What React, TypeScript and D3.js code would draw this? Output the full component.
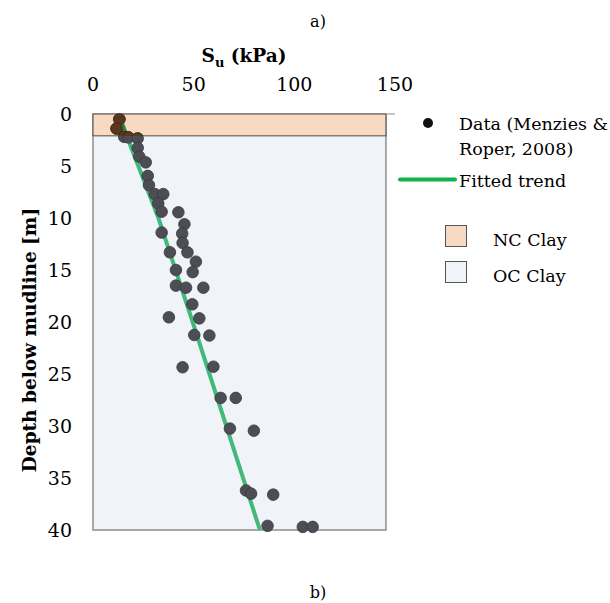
import React, { useEffect, useRef } from "react";
import * as d3 from "d3";

const suTicks = [0, 50, 100, 150];
const depthTicks = [0, 5, 10, 15, 20, 25, 30, 35, 40];

// Su (kPa) vs depth (m)
const dataSu = [
  13.1, 11.7, 15.5, 17.6, 22.2, 22.2, 23.0, 26.2, 27.2, 27.8, 30.7, 34.9, 32.4,
  34.1, 42.4, 45.4, 34.1, 44.3, 44.5, 38.2, 46.9, 51.1, 41.2, 49.5, 41.2, 46.2,
  54.8, 49.3, 37.7, 52.8, 50.3, 57.8, 44.5, 59.8, 63.4, 70.9, 68.0, 79.9, 76.0,
  78.5, 89.5, 86.7, 104.2, 109.1,
];
const dataDepth = [
  0.5, 1.4, 2.2, 2.25, 2.35, 3.25, 4.1, 4.65, 5.95, 6.85, 7.7, 7.7, 8.6, 9.4,
  9.45, 10.6, 11.4, 11.5, 12.4, 13.3, 13.3, 14.2, 15.0, 15.2, 16.5, 16.7, 16.7,
  18.3, 19.55, 19.65, 21.25, 21.3, 24.35, 24.3, 27.3, 27.3, 30.25, 30.45, 36.2,
  36.5, 36.6, 39.6, 39.7, 39.7,
];

const trendDepth = [0, 2, 10, 20, 40];
const trendSu = [12.6, 16.5, 32.5, 49.5, 82.9];

const ncBottom = 2.1;
const layerSuMax = 145.5;
const dataLabel = ["Data (Menzies &", "Roper, 2008)"];
const trendLabel = "Fitted trend";
const layerLabels = ["NC Clay", "OC Clay"];
const layerColors = ["#f8dac3", "#f0f4f8"];

const font = "'DejaVu Serif', serif";

const App = () => {
  const ref = useRef<SVGSVGElement>(null);

  useEffect(() => {
    const svg = d3.select(ref.current);
    svg.selectAll("*").remove();

    const x = d3.scaleLinear().domain([0, 150]).range([93, 395]);
    const y = d3.scaleLinear().domain([0, 40]).range([114, 530]);

    const points = dataSu.map((s, i) => ({ su: s, z: dataDepth[i] }));
    const trend = trendSu.map((s, i) => ({ su: s, z: trendDepth[i] }));
    const line = d3
      .line<{ su: number; z: number }>()
      .x((d) => x(d.su))
      .y((d) => y(d.z));

    svg
      .append("defs")
      .append("clipPath")
      .attr("id", "nc-clip")
      .append("rect")
      .attr("x", x(0))
      .attr("y", y(0))
      .attr("width", x(layerSuMax) - x(0))
      .attr("height", y(ncBottom) - y(0));

    // OC clay (whole profile)
    svg
      .append("rect")
      .attr("x", x(0))
      .attr("y", y(0))
      .attr("width", x(layerSuMax) - x(0))
      .attr("height", y(40) - y(0))
      .attr("fill", layerColors[1])
      .attr("stroke", "#8e8e8e")
      .attr("stroke-width", 1.5);

    svg
      .append("line")
      .attr("x1", x(0))
      .attr("x2", x(150))
      .attr("y1", y(0))
      .attr("y2", y(0))
      .attr("stroke", "#c6c6c6")
      .attr("stroke-width", 2);

    // NC clay layer
    svg
      .append("rect")
      .attr("x", x(0))
      .attr("y", y(0))
      .attr("width", x(layerSuMax) - x(0))
      .attr("height", y(ncBottom) - y(0))
      .attr("fill", layerColors[0])
      .attr("stroke", "#4a4a4a")
      .attr("stroke-width", 1);

    const drawMarks = (g, lineColor, dotFill, dotStroke) => {
      g.append("path")
        .datum(trend)
        .attr("d", line)
        .attr("fill", "none")
        .attr("stroke", lineColor)
        .attr("stroke-width", 4);
      g.selectAll("circle")
        .data(points)
        .join("circle")
        .attr("cx", (d) => x(d.su))
        .attr("cy", (d) => y(d.z))
        .attr("r", 5.8)
        .attr("fill", dotFill)
        .attr("stroke", dotStroke)
        .attr("stroke-width", 0.8);
    };

    drawMarks(svg.append("g"), "#40b97a", "#4d4d55", "#38383d");
    drawMarks(
      svg.append("g").attr("clip-path", "url(#nc-clip)"),
      "#2f8a3c",
      "#5a3620",
      "#43260f"
    );

    // axis tick labels
    svg
      .append("g")
      .selectAll("text")
      .data(suTicks)
      .join("text")
      .attr("x", (d) => x(d))
      .attr("y", 91)
      .attr("text-anchor", "middle")
      .attr("font-family", font)
      .attr("font-size", 19)
      .text((d) => d);

    svg
      .append("g")
      .selectAll("text")
      .data(depthTicks)
      .join("text")
      .attr("x", 72)
      .attr("y", (d) => y(d) + 7)
      .attr("text-anchor", "end")
      .attr("font-family", font)
      .attr("font-size", 19)
      .text((d) => d);

    const title = svg
      .append("text")
      .attr("x", 244)
      .attr("y", 62)
      .attr("text-anchor", "middle")
      .attr("font-family", font)
      .attr("font-size", 18.5)
      .attr("font-weight", "bold");
    title.append("tspan").text("S");
    title
      .append("tspan")
      .attr("font-size", 13)
      .attr("dy", 5)
      .text("u");
    title.append("tspan").attr("dy", -5).text(" (kPa)");

    svg
      .append("text")
      .attr("transform", "translate(36,340) rotate(-90)")
      .attr("text-anchor", "middle")
      .attr("font-family", font)
      .attr("font-size", 18.5)
      .attr("font-weight", "bold")
      .text("Depth below mudline [m]");

    svg
      .append("text")
      .attr("x", 318)
      .attr("y", 27)
      .attr("text-anchor", "middle")
      .attr("font-family", font)
      .attr("font-size", 16)
      .text("a)");
    svg
      .append("text")
      .attr("x", 318)
      .attr("y", 598)
      .attr("text-anchor", "middle")
      .attr("font-family", font)
      .attr("font-size", 16)
      .text("b)");

    // legend
    const legend = svg.append("g").attr("font-family", font).attr("font-size", 17.5);
    legend.append("circle").attr("cx", 428).attr("cy", 123).attr("r", 5).attr("fill", "#111");
    legend
      .selectAll("text.data")
      .data(dataLabel)
      .join("text")
      .attr("class", "data")
      .attr("x", 459)
      .attr("y", (d, i) => 130 + i * 25)
      .text((d) => d);
    legend
      .append("line")
      .attr("x1", 400)
      .attr("x2", 455)
      .attr("y1", 179.5)
      .attr("y2", 179.5)
      .attr("stroke", "#14b04c")
      .attr("stroke-width", 4)
      .attr("stroke-linecap", "round");
    legend.append("text").attr("x", 459).attr("y", 187).text(trendLabel);

    layerLabels.forEach((lab, i) => {
      legend
        .append("rect")
        .attr("x", 445.5)
        .attr("y", 225.5 + i * 36)
        .attr("width", 21)
        .attr("height", 21)
        .attr("fill", layerColors[i])
        .attr("stroke", "#555")
        .attr("stroke-width", 1);
      legend
        .append("text")
        .attr("x", 493)
        .attr("y", 246 + i * 36)
        .text(lab);
    });
  }, []);

  return (
    <svg
      ref={ref}
      width={610}
      height={603}
      style={{ position: "absolute", left: 0, top: 0, background: "#fff" }}
    ></svg>
  );
};

export default App;
